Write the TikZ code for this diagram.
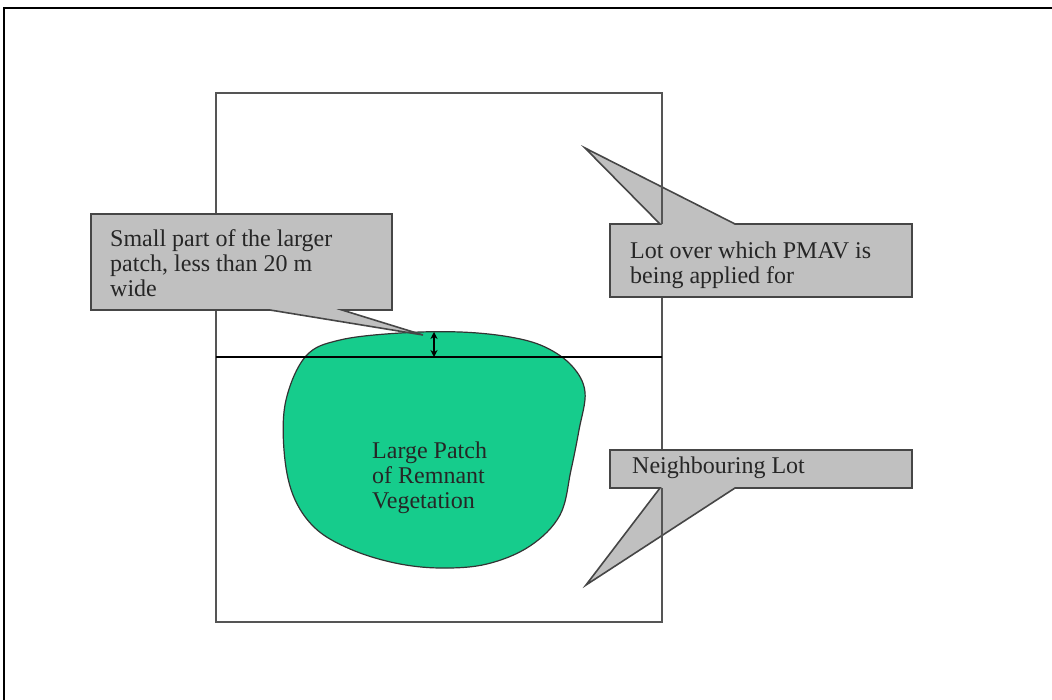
\documentclass[tikz,border=0pt]{standalone}
\usepackage{fontspec}
\setmainfont{Liberation Serif}
\usetikzlibrary{arrows.meta}
\definecolor{callgray}{RGB}{192,192,192}
\definecolor{edgegray}{RGB}{70,70,70}
\definecolor{lotgray}{RGB}{85,85,85}
\definecolor{patchgreen}{RGB}{22,204,140}
\tikzset{
  calloutshape/.style={fill=callgray, draw=edgegray, line width=1.6pt, line join=miter},
  lotline/.style={draw=lotgray, line width=2pt},
  label/.style={inner sep=0pt, anchor=north west, align=left,
    font=\fontsize{24}{25}\selectfont, text=black!85},
}
\begin{document}
\begin{tikzpicture}[x=1pt,y=-1pt]
\useasboundingbox (0,0) rectangle (1052,700);
% outer frame
\draw[black, line width=2.5pt] (4,700) -- (4,8) -- (1052,8);
% lot rectangle
\draw[lotline] (216,93) rectangle (662,622);
% remnant vegetation patch
\draw[fill=patchgreen, draw=black!80, line width=1.2pt]
  plot[smooth cycle, tension=0.6] coordinates {
  (306,356) (340,340) (400,333) (460,332) (510,337) (545,347)
  (572,366) (585,392) (579,430) (571,470) (560,515) (530,546)
  (487,564) (440,568) (395,563) (350,549) (315,528) (293,495) (284,450)
  (286,400)};
% boundary between lots
\draw[black, line width=2pt] (216,357) -- (662,357);
% callout tails and boxes
\draw[calloutshape] (91,214) -- (392,214) -- (392,310) -- (342,310) -- (423,335)
  -- (270,310) -- (91,310) -- cycle;
\draw[calloutshape] (610,224) -- (660,224) -- (585,148) -- (735,224) -- (912,224)
  -- (912,297) -- (610,297) -- cycle;
\draw[calloutshape] (610,450) -- (912,450) -- (912,488) -- (735,488) -- (586,585)
  -- (660,488) -- (610,488) -- cycle;
% lot line visible through tails
\draw[lotline] (662,93) -- (662,224);
\draw[lotline] (662,488) -- (662,622);
% width marker
\coordinate (wtop) at (434,332);
\coordinate (wbot) at (434,357);
\draw[black, line width=1.6pt, {Stealth[length=7pt,width=7pt]}-{Stealth[length=7pt,width=7pt]}] (wtop) -- (wbot);
% texts
\node[label] (small) at (110,229) {Small part of the larger\\patch, less than 20 m\\wide};
\node[label] (lot) at (630,242) {Lot over which PMAV is\\being applied for};
\node[label] (neigh) at (632,457) {Neighbouring Lot};
\node[label] (patch) at (372,442) {Large Patch\\of Remnant\\Vegetation};
\end{tikzpicture}
\end{document}
